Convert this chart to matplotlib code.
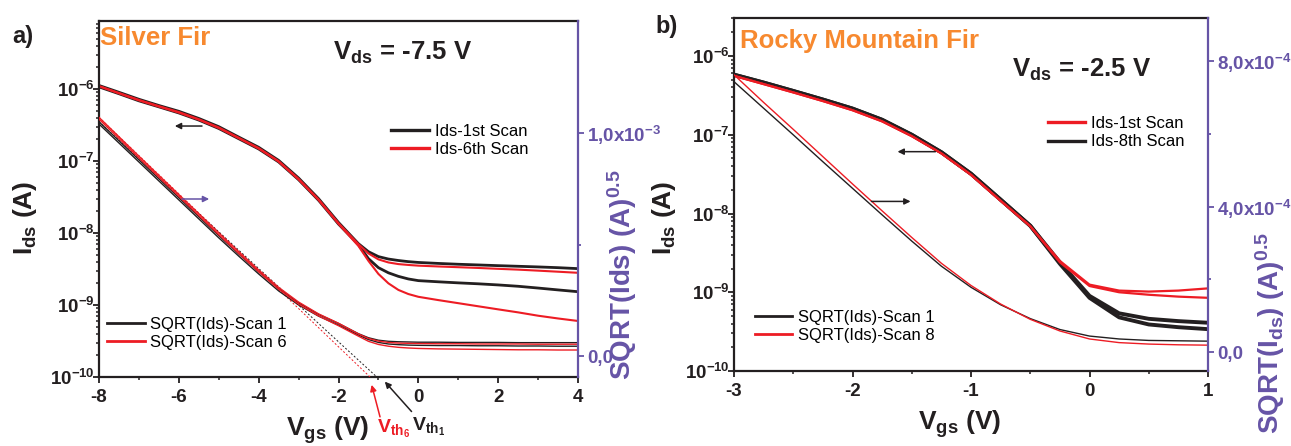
import numpy as np
import matplotlib
matplotlib.use('Agg')
import matplotlib.pyplot as plt
from matplotlib.ticker import FixedLocator, FuncFormatter, LogLocator, NullFormatter
from matplotlib.lines import Line2D

plt.rcParams.update({
    'font.family': ['Liberation Sans', 'DejaVu Sans'],
    'mathtext.fontset': 'custom',
    'mathtext.rm': 'Liberation Sans',
    'mathtext.bf': 'Liberation Sans:bold',
    'mathtext.it': 'Liberation Sans:italic',
    'axes.unicode_minus': False,
})

BLACK = '#231F20'
RED = '#ED1C24'
ORANGE = '#F7892F'
PURPLE = '#6654A6'

# ---------------- a) Silver Fir, Vds = -7.5 V ----------------
vgs_a = [-8.0, -7.5, -7.0, -6.5, -6.0, -5.5, -5.0, -4.5, -4.0, -3.5, -3.0, -2.5, -2.0,
         -1.5, -1.25, -1.0, -0.75, -0.5, -0.25, 0.0, 0.5, 1.0, 1.5, 2.0, 2.5, 3.0, 3.5, 4.0]

ids_a_scan1_fwd = [1.12e-6, 9.0e-7, 7.2e-7, 5.9e-7, 4.9e-7, 3.9e-7, 3.0e-7, 2.15e-7, 1.55e-7,
                   1.02e-7, 5.8e-8, 3.0e-8, 1.4e-8, 7.1e-9, 5.5e-9, 4.7e-9, 4.35e-9, 4.15e-9,
                   4.0e-9, 3.9e-9, 3.78e-9, 3.68e-9, 3.6e-9, 3.52e-9, 3.45e-9, 3.38e-9, 3.3e-9, 3.2e-9]
ids_a_scan1_rev = [1.07e-6, 8.6e-7, 6.85e-7, 5.65e-7, 4.65e-7, 3.7e-7, 2.83e-7, 2.04e-7, 1.47e-7,
                   0.97e-7, 5.5e-8, 2.85e-8, 1.33e-8, 6.9e-9, 4.4e-9, 3.3e-9, 2.8e-9, 2.5e-9,
                   2.3e-9, 2.18e-9, 2.1e-9, 2.03e-9, 1.97e-9, 1.9e-9, 1.82e-9, 1.72e-9, 1.62e-9, 1.53e-9]
ids_a_scan6_fwd = [1.10e-6, 8.8e-7, 7.05e-7, 5.78e-7, 4.78e-7, 3.8e-7, 2.92e-7, 2.1e-7, 1.51e-7,
                   0.995e-7, 5.65e-8, 2.93e-8, 1.37e-8, 7.0e-9, 5.2e-9, 4.3e-9, 3.9e-9, 3.7e-9,
                   3.6e-9, 3.52e-9, 3.43e-9, 3.35e-9, 3.27e-9, 3.18e-9, 3.1e-9, 3.0e-9, 2.9e-9, 2.8e-9]
ids_a_scan6_rev = [1.09e-6, 8.7e-7, 6.95e-7, 5.7e-7, 4.7e-7, 3.75e-7, 2.87e-7, 2.07e-7, 1.49e-7,
                   0.98e-7, 5.55e-8, 2.88e-8, 1.34e-8, 6.6e-9, 4.1e-9, 2.7e-9, 2.0e-9, 1.62e-9,
                   1.42e-9, 1.3e-9, 1.17e-9, 1.06e-9, 0.96e-9, 0.87e-9, 0.79e-9, 0.71e-9, 0.65e-9, 0.60e-9]

# square root of Ids, in units of 1e-3 A^0.5
sqrt_a_scan1_fwd = [1.050, 0.965, 0.880, 0.795, 0.710, 0.625, 0.540, 0.458, 0.378, 0.302, 0.238,
                    0.187, 0.146, 0.100, 0.082, 0.071, 0.066, 0.064, 0.063, 0.062, 0.062, 0.061,
                    0.061, 0.061, 0.060, 0.060, 0.060, 0.060]
sqrt_a_scan1_rev = [1.040, 0.955, 0.870, 0.785, 0.700, 0.615, 0.530, 0.448, 0.368, 0.292, 0.229,
                    0.179, 0.139, 0.094, 0.074, 0.061, 0.054, 0.051, 0.049, 0.048, 0.047, 0.047,
                    0.046, 0.046, 0.045, 0.045, 0.044, 0.044]
sqrt_a_scan6_fwd = [1.070, 0.983, 0.896, 0.810, 0.724, 0.638, 0.552, 0.468, 0.386, 0.308, 0.242,
                    0.189, 0.147, 0.099, 0.079, 0.067, 0.061, 0.058, 0.057, 0.056, 0.055, 0.055,
                    0.054, 0.054, 0.054, 0.053, 0.053, 0.053]
sqrt_a_scan6_rev = [1.062, 0.975, 0.888, 0.802, 0.716, 0.630, 0.544, 0.460, 0.378, 0.300, 0.233,
                    0.180, 0.136, 0.089, 0.066, 0.052, 0.044, 0.039, 0.036, 0.034, 0.032, 0.031,
                    0.030, 0.029, 0.028, 0.028, 0.027, 0.027]

# linear extrapolations of the sqrt curves down to the axis (threshold voltages)
fit_a_scan1_v = [-8.0, -1.04]
fit_a_scan1_s = [1.050, -0.094]
fit_a_scan6_v = [-8.0, -1.21]
fit_a_scan6_s = [1.070, -0.094]
vth_a_scan1 = -1.04
vth_a_scan6 = -1.21

ids_labels_a = ['Ids-1st Scan', 'Ids-6th Scan']
sqrt_labels_a = ['SQRT(Ids)-Scan 1', 'SQRT(Ids)-Scan 6']

# ---------------- b) Rocky Mountain Fir, Vds = -2.5 V ----------------
vgs_b = [-3.0, -2.75, -2.5, -2.25, -2.0, -1.75, -1.5, -1.25, -1.0, -0.75, -0.5, -0.25,
         0.0, 0.25, 0.5, 0.75, 1.0]

ids_b_scan8_fwd = [5.8e-7, 4.6e-7, 3.6e-7, 2.8e-7, 2.15e-7, 1.55e-7, 1.0e-7, 6.0e-8, 3.2e-8,
                   1.5e-8, 7.0e-9, 2.4e-9, 9.0e-10, 5.4e-10, 4.6e-10, 4.3e-10, 4.1e-10]
ids_b_scan8_rev = [5.8e-7, 4.6e-7, 3.6e-7, 2.8e-7, 2.15e-7, 1.55e-7, 1.0e-7, 6.0e-8, 3.2e-8,
                   1.5e-8, 7.0e-9, 2.3e-9, 8.5e-10, 4.8e-10, 3.9e-10, 3.6e-10, 3.4e-10]
ids_b_scan1_fwd = [5.6e-7, 4.4e-7, 3.45e-7, 2.68e-7, 2.05e-7, 1.48e-7, 0.96e-7, 5.8e-8, 3.1e-8,
                   1.45e-8, 6.9e-9, 2.5e-9, 1.25e-9, 1.05e-9, 1.02e-9, 1.05e-9, 1.12e-9]
ids_b_scan1_rev = [5.6e-7, 4.4e-7, 3.45e-7, 2.68e-7, 2.05e-7, 1.48e-7, 0.96e-7, 5.8e-8, 3.1e-8,
                   1.45e-8, 6.9e-9, 2.4e-9, 1.2e-9, 1.0e-9, 0.93e-9, 0.88e-9, 0.85e-9]

# square root of Ids, in units of 1e-4 A^0.5
sqrt_b_scan1 = [7.43, 6.70, 5.97, 5.23, 4.50, 3.77, 3.05, 2.36, 1.78, 1.30, 0.92, 0.62,
                0.44, 0.36, 0.32, 0.31, 0.30]
sqrt_b_scan8 = [7.62, 6.86, 6.12, 5.37, 4.62, 3.88, 3.15, 2.44, 1.83, 1.32, 0.90, 0.58,
                0.36, 0.26, 0.22, 0.20, 0.19]

ids_labels_b = ['Ids-1st Scan', 'Ids-8th Scan']
sqrt_labels_b = ['SQRT(Ids)-Scan 1', 'SQRT(Ids)-Scan 8']

# right-axis ticks
right_ticks_a = [0.0, 1.0e-3]
right_ticklabels_a = ['0,0', r'$\mathbf{1{,}0x10^{-3}}$']
right_minor_a = [0.5e-3]
right_ticks_b = [0.0, 4.0e-4, 8.0e-4]
right_ticklabels_b = ['0,0', r'$\mathbf{4{,}0x10^{-4}}$', r'$\mathbf{8{,}0x10^{-4}}$']
right_minor_b = [2.0e-4, 6.0e-4]

W, H = 1291, 446
fig = plt.figure(figsize=(W / 100, H / 100), dpi=100)


def px_axes(x0, y0, x1, y1):
    return fig.add_axes([x0 / W, 1 - y1 / H, (x1 - x0) / W, (y1 - y0) / H])


log_fmt = FuncFormatter(lambda v, p: r'$\mathbf{10^{%d}}$' % int(round(np.log10(v))))


def style_axes(ax, ax2):
    ax.set_yscale('log')
    ax.yaxis.set_major_locator(FixedLocator([1e-10, 1e-9, 1e-8, 1e-7, 1e-6]))
    ax.yaxis.set_minor_locator(LogLocator(base=10, subs=np.arange(2, 10), numticks=20))
    ax.yaxis.set_major_formatter(log_fmt)
    ax.yaxis.set_minor_formatter(NullFormatter())
    for s in ['left', 'top', 'bottom']:
        ax.spines[s].set_linewidth(1.6)
        ax.spines[s].set_color(BLACK)
    ax.spines['right'].set_visible(False)
    ax.tick_params(axis='both', which='major', direction='out', length=4.5, width=1.3,
                   color=BLACK, labelcolor=BLACK)
    ax.tick_params(axis='both', which='minor', direction='out', length=2.5, width=1.1,
                   color=BLACK)
    ax.tick_params(axis='x', labelsize=13.5, pad=4)
    ax.tick_params(axis='y', labelsize=13.5, pad=-1.5)
    for lbl in ax.get_xticklabels() + ax.get_yticklabels():
        lbl.set_fontweight('bold')
    for s in ['left', 'top', 'bottom']:
        ax2.spines[s].set_visible(False)
    ax2.spines['right'].set_color(PURPLE)
    ax2.spines['right'].set_linewidth(1.6)
    ax2.tick_params(axis='y', which='major', direction='out', length=4.5, width=1.3,
                    color=PURPLE, labelcolor=PURPLE, labelsize=13.5, pad=2)
    ax2.tick_params(axis='y', which='minor', direction='out', length=2.5, width=1.3,
                    color=PURPLE)


def arrow(ax, head, tail, color, **kw):
    ax.annotate('', xy=head, xytext=tail, annotation_clip=False,
                arrowprops=dict(arrowstyle='-|>', color=color, lw=1.1,
                                mutation_scale=9, shrinkA=0, shrinkB=0), **kw)


# ================= panel a =================
ax = px_axes(99, 21, 578, 377)
ax2 = ax.twinx()

ax.plot(vgs_a, ids_a_scan1_fwd, color=BLACK, lw=2.0)
ax.plot(vgs_a, ids_a_scan1_rev, color=BLACK, lw=2.0)
ax.plot(vgs_a, ids_a_scan6_fwd, color=RED, lw=1.5)
ax.plot(vgs_a, ids_a_scan6_rev, color=RED, lw=1.5)
ax.set_xlim(-8, 4)
ax.set_ylim(1e-10, 8.8e-6)
ax.xaxis.set_major_locator(FixedLocator([-8, -6, -4, -2, 0, 2, 4]))
ax.xaxis.set_minor_locator(FixedLocator([-7, -5, -3, -1, 1, 3]))

sa1f = np.array(sqrt_a_scan1_fwd) * 1e-3
sa1r = np.array(sqrt_a_scan1_rev) * 1e-3
sa6f = np.array(sqrt_a_scan6_fwd) * 1e-3
sa6r = np.array(sqrt_a_scan6_rev) * 1e-3
ax2.plot(fit_a_scan6_v, np.array(fit_a_scan6_s) * 1e-3, color=RED, lw=0.7, ls=(0, (2, 2)))
ax2.plot(fit_a_scan1_v, np.array(fit_a_scan1_s) * 1e-3, color=BLACK, lw=0.7, ls=(0, (2, 2)))
ax2.plot(vgs_a, sa1f, color=BLACK, lw=1.0)
ax2.plot(vgs_a, sa1r, color=BLACK, lw=1.0)
ax2.plot(vgs_a, sa6f, color=RED, lw=1.0)
ax2.plot(vgs_a, sa6r, color=RED, lw=1.0)
ax2.set_ylim(-0.094e-3, 1.502e-3)
ax2.set_yticks(right_ticks_a, right_ticklabels_a, fontweight='bold')
ax2.yaxis.set_minor_locator(FixedLocator(right_minor_a))

style_axes(ax, ax2)

ax.set_ylabel(r'I$_{\mathbf{ds}}$ (A)', fontsize=19, fontweight='bold', color=BLACK)
ax.yaxis.set_label_coords(-0.125, 0.448)
ax.set_xlabel(r'V$_{\mathbf{gs}}$ (V)', fontsize=19, fontweight='bold', color=BLACK)
ax.xaxis.set_label_coords(0.478, -0.105)
ax2.set_ylabel(r'SQRT(Ids) (A)$^{\mathbf{0.5}}$', fontsize=20, fontweight='bold', color=PURPLE)
ax2.yaxis.set_label_coords(1.056, 0.287)

leg = ax.legend([Line2D([], [], color=BLACK, lw=2.4), Line2D([], [], color=RED, lw=2.4)],
                ids_labels_a, loc='upper left', bbox_to_anchor=(0.61, 0.711), frameon=False,
                fontsize=12, handlelength=2.25, handletextpad=0.35, labelspacing=0.2,
                borderpad=0, borderaxespad=0)
ax2.legend([Line2D([], [], color=BLACK, lw=2.0), Line2D([], [], color=RED, lw=2.0)],
           sqrt_labels_a, loc='upper left', bbox_to_anchor=(0.017, 0.169), frameon=False,
           fontsize=12, handlelength=2.25, handletextpad=0.35, labelspacing=0.2,
           borderpad=0, borderaxespad=0)

arrow(ax, (-6.10, 3.06e-7), (-5.42, 3.06e-7), BLACK)
arrow(ax2, (-5.24, 0.704e-3), (-5.92, 0.704e-3), PURPLE)

xt = ax2.get_xaxis_transform()
arrow(ax2, (vth_a_scan6 + 0.04, -0.022), (-0.96, -0.112), RED, xycoords=xt, textcoords=xt)
arrow(ax2, (vth_a_scan1 + 0.2, -0.013), (-0.17, -0.097), BLACK, xycoords=xt, textcoords=xt)
ax2.text(-1.04, -0.157, r'$\mathbf{V_{th_6}}$', transform=xt, color=RED, fontsize=14,
         va='baseline', ha='left', clip_on=False)
ax2.text(-0.16, -0.152, r'$\mathbf{V_{th_1}}$', transform=xt, color=BLACK, fontsize=14,
         va='baseline', ha='left', clip_on=False)

fig.text(12 / W, 1 - 43 / H, 'a)', fontsize=17, fontweight='bold', color=BLACK, va='baseline')
fig.text(100 / W, 1 - 45 / H, 'Silver Fir', fontsize=18.5, fontweight='bold', color=ORANGE,
         va='baseline')
fig.text(333 / W, 1 - 60 / H, r'V$_{\mathbf{ds}}$ = -7.5 V', fontsize=18.5, fontweight='bold',
         color=BLACK, va='baseline')

# ================= panel b =================
bx = px_axes(734, 18, 1208, 371)
bx2 = bx.twinx()

bx.plot(vgs_b, ids_b_scan8_fwd, color=BLACK, lw=2.8)
bx.plot(vgs_b, ids_b_scan8_rev, color=BLACK, lw=2.8)
bx.plot(vgs_b, ids_b_scan1_fwd, color=RED, lw=1.6)
bx.plot(vgs_b, ids_b_scan1_rev, color=RED, lw=1.6)
bx.set_xlim(-3, 1)
bx.set_ylim(1e-10, 3.04e-6)
bx.xaxis.set_major_locator(FixedLocator([-3, -2, -1, 0, 1]))
bx.xaxis.set_minor_locator(FixedLocator([-2.5, -1.5, -0.5, 0.5]))

bx2.plot(vgs_b, np.array(sqrt_b_scan1) * 1e-4, color=BLACK, lw=1.0)
bx2.plot(vgs_b, np.array(sqrt_b_scan8) * 1e-4, color=RED, lw=1.0)
bx2.set_ylim(-0.52e-4, 9.18e-4)
bx2.set_yticks(right_ticks_b, right_ticklabels_b, fontweight='bold')
bx2.yaxis.set_minor_locator(FixedLocator(right_minor_b))

style_axes(bx, bx2)

bx.set_ylabel(r'I$_{\mathbf{ds}}$ (A)', fontsize=19, fontweight='bold', color=BLACK)
bx.yaxis.set_label_coords(-0.118, 0.435)
bx.set_xlabel(r'V$_{\mathbf{gs}}$ (V)', fontsize=19, fontweight='bold', color=BLACK)
bx.xaxis.set_label_coords(0.477, -0.105)
bx2.set_ylabel(r'SQRT(I$_{\mathbf{ds}}$) (A)$^{\mathbf{0.5}}$', fontsize=20, fontweight='bold',
               color=PURPLE)
bx2.yaxis.set_label_coords(1.095, 0.109)

bx.legend([Line2D([], [], color=RED, lw=2.4), Line2D([], [], color=BLACK, lw=2.4)],
          ids_labels_b, loc='upper left', bbox_to_anchor=(0.662, 0.722), frameon=False,
          fontsize=12, handlelength=2.25, handletextpad=0.35, labelspacing=0.2,
          borderpad=0, borderaxespad=0)
bx2.legend([Line2D([], [], color=BLACK, lw=2.0), Line2D([], [], color=RED, lw=2.0)],
           sqrt_labels_b, loc='upper left', bbox_to_anchor=(0.044, 0.173), frameon=False,
           fontsize=12, handlelength=2.25, handletextpad=0.35, labelspacing=0.2,
           borderpad=0, borderaxespad=0)

arrow(bx, (-1.62, 6.1e-8), (-1.30, 6.1e-8), BLACK)
arrow(bx2, (-1.51, 4.14e-4), (-1.84, 4.14e-4), BLACK)

fig.text(655 / W, 1 - 33 / H, 'b)', fontsize=17, fontweight='bold', color=BLACK, va='baseline')
fig.text(740 / W, 1 - 48 / H, 'Rocky Mountain Fir', fontsize=18.5, fontweight='bold',
         color=ORANGE, va='baseline')
fig.text(1012 / W, 1 - 77 / H, r'V$_{\mathbf{ds}}$ = -2.5 V', fontsize=18.5, fontweight='bold',
         color=BLACK, va='baseline')

fig.savefig('out.png', dpi=100)
